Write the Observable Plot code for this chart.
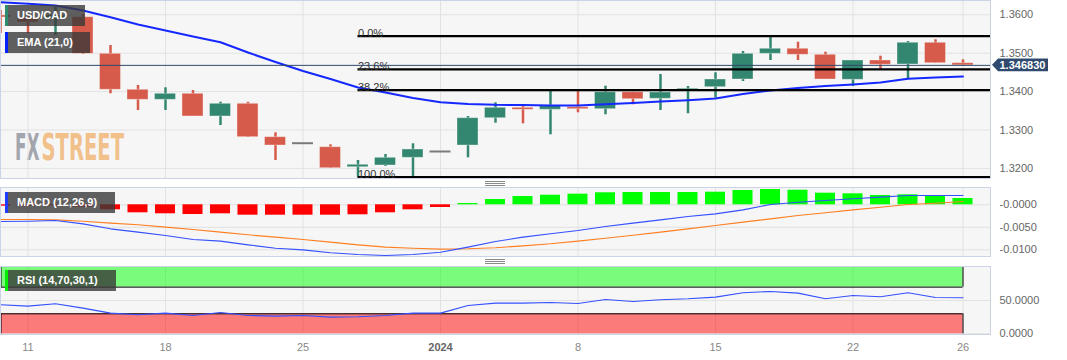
<!DOCTYPE html>
<html>
<head>
<meta charset="utf-8">
<script src="https://cdn.jsdelivr.net/npm/d3@7"></script>
<script src="https://cdn.jsdelivr.net/npm/@observablehq/plot@0.6"></script>
<style>
html,body{margin:0;padding:0;background:#fff;}
#wrap{position:relative;width:1067px;height:360px;overflow:hidden;font-family:"Liberation Sans",Arial,sans-serif;}
#wrap svg{position:absolute;left:0;}
.legend{position:absolute;left:5px;height:21px;background:rgba(58,58,58,0.8);color:#fff;font:bold 11px "Liberation Sans",Arial,sans-serif;line-height:21px;padding-left:12px;box-sizing:border-box;white-space:nowrap;}
.legend .acc{position:absolute;left:0;top:0;width:2.5px;height:100%;}
.sep{position:absolute;left:485px;width:20px;height:1px;background:#8a8a8a;}
</style>
</head>
<body>
<div id="wrap"></div>
<script>
// ---------- DATA ----------
const dates = ["2023-12-08","2023-12-11","2023-12-12","2023-12-13","2023-12-14","2023-12-15",
  "2023-12-18","2023-12-19","2023-12-20","2023-12-21","2023-12-22",
  "2023-12-25","2023-12-26","2023-12-27","2023-12-28","2023-12-29",
  "2024-01-01","2024-01-02","2024-01-03","2024-01-04","2024-01-05",
  "2024-01-08","2024-01-09","2024-01-10","2024-01-11","2024-01-12",
  "2024-01-15","2024-01-16","2024-01-17","2024-01-18","2024-01-19",
  "2024-01-22","2024-01-23","2024-01-24","2024-01-25","2024-01-26"];
const open  = [1.35982,1.35904,1.35904,1.35938,1.34984,1.34047,1.33786,1.33943,1.33352,1.33682,1.32813,1.32656,1.32552,1.32031,1.32076,1.32276,1.32440,1.32596,1.33307,1.33578,1.33526,1.33594,1.33542,1.33984,1.33813,1.34003,1.34115,1.34315,1.34984,1.35115,1.34958,1.34307,1.34810,1.34706,1.35271,1.34740];
const high  = [1.36112,1.36008,1.36190,1.36008,1.35201,1.34159,1.34099,1.34029,1.33724,1.33724,1.32927,1.32656,1.32615,1.32206,1.32362,1.32641,1.32440,1.33352,1.33708,1.33638,1.34003,1.34010,1.34141,1.33984,1.34445,1.34133,1.34490,1.35044,1.35417,1.35286,1.35026,1.34810,1.34922,1.35305,1.35349,1.34828];
const low   = [1.35513,1.35513,1.35461,1.34966,1.33943,1.33508,1.33508,1.33352,1.33117,1.32805,1.32206,1.32656,1.32005,1.31771,1.32049,1.31789,1.32440,1.32276,1.33177,1.33161,1.32875,1.33448,1.33396,1.33656,1.33508,1.33422,1.33828,1.34263,1.34810,1.34810,1.34315,1.34133,1.34549,1.34333,1.34740,1.34661];
const close = [1.35930,1.35799,1.35982,1.34984,1.34047,1.33786,1.33943,1.33352,1.33682,1.32813,1.32596,1.32656,1.32005,1.32094,1.32276,1.32492,1.32440,1.33307,1.33578,1.33526,1.33638,1.33542,1.33984,1.33802,1.33977,1.34073,1.34315,1.34984,1.35115,1.34958,1.34315,1.34810,1.34698,1.35271,1.34740,1.34683];
const ema21 = [1.36328,1.36286,1.36242,1.36112,1.35938,1.35747,1.35591,1.35435,1.35286,1.35018,1.34771,1.34536,1.34328,1.34107,1.33977,1.33833,1.33724,1.33677,1.33656,1.33651,1.33638,1.33638,1.33669,1.33703,1.33742,1.33776,1.33820,1.33938,1.34029,1.34094,1.34146,1.34185,1.34237,1.34333,1.34367,1.34393];
const macdLine = [-0.00371,-0.00364,-0.00349,-0.00423,-0.00534,-0.00608,-0.00682,-0.00771,-0.00808,-0.00890,-0.00964,-0.01001,-0.01067,-0.01104,-0.01127,-0.01104,-0.01053,-0.00941,-0.00816,-0.00719,-0.00645,-0.00571,-0.00482,-0.00408,-0.00334,-0.00260,-0.00201,-0.00112,0.00007,0.00058,0.00096,0.00133,0.00170,0.00207,0.00207,0.00207];
const signalLine = [-0.00327,-0.00327,-0.00334,-0.00364,-0.00408,-0.00445,-0.00497,-0.00549,-0.00608,-0.00667,-0.00719,-0.00771,-0.00830,-0.00890,-0.00941,-0.00964,-0.00986,-0.00978,-0.00956,-0.00912,-0.00867,-0.00808,-0.00742,-0.00675,-0.00608,-0.00534,-0.00460,-0.00386,-0.00312,-0.00238,-0.00178,-0.00112,-0.00053,0.00007,0.00036,0.00073];
const macdHist = [-0.0003,-0.0003,-0.0002,-0.0005,-0.00111,-0.00178,-0.00200,-0.00216,-0.00200,-0.00231,-0.00231,-0.00231,-0.00231,-0.00222,-0.00178,-0.00111,-0.00060,0.00029,0.00118,0.00184,0.00213,0.00236,0.00267,0.00273,0.00273,0.00273,0.00280,0.00318,0.00340,0.00324,0.00258,0.00244,0.00207,0.00222,0.00184,0.00140];
const rsi14 = [43.5,41.5,45.0,38.5,31.0,28.5,31.0,27.5,32.0,27.5,26.5,27.5,25.0,25.5,27.5,31.0,31.0,42.5,46.0,46.0,47.0,45.5,51.5,48.5,51.0,52.5,55.0,61.5,63.5,61.0,52.5,57.5,55.5,61.5,54.5,54.0];

const xTickPos = [0,5,10,15,20,25,30,34];
const xTickLabels = ["11","18","25","2024","8","15","22","26"];
const priceTicks = [1.32,1.33,1.34,1.35,1.36];
const macdTicks = [0,-0.005,-0.01];
const macdTickLabels = ["-0.0000","-0.0050","-0.0100"];
const rsiTicks = [50,0];
const rsiLevels = [70,30];

const fibRatios = [0,0.236,0.382,1];
const fibLabels = ["0.0%","23.6%","38.2%","100.0%"];
const fibHigh = 1.35443, fibLow = 1.31771, fibStartIndex = 12;
const lastClose = 1.34683;

// ---------- STYLE CONSTANTS ----------
const X_DOMAIN = [-1, 35];
const W = 1067, MR = 77;
const RED = "#d65b4a", GREEN = "#33866f", DOJI = "#7a7a7a";
const PANEL_BG = "#f6f6f6", BORDER = "#cdd3e6", GRID = "#e2e2e2";
const FONT = '"Liberation Sans", Arial, sans-serif';
const BODY = 0.382, BAR = 0.364;

const rows = dates.map((d, k) => ({
  i: k - 1, date: d, open: open[k], high: high[k], low: low[k], close: close[k],
  ema: ema21[k], macd: macdLine[k], signal: signalLine[k], hist: macdHist[k], rsi: rsi14[k]
}));
const lastI = rows[rows.length - 1].i;
const colorOf = d => d.close > d.open ? GREEN : d.close < d.open ? RED : DOJI;
const bodies = rows.filter(d => d.open !== d.close);
const dojis = rows.filter(d => d.open === d.close);
const fibs = fibRatios.map((r, k) => ({label: fibLabels[k], value: fibHigh - r * (fibHigh - fibLow)}));

const baseStyle = {background: "transparent", fontFamily: FONT, fontSize: "11px", overflow: "visible"};
const wrap = document.getElementById("wrap");

// ---------- PRICE PANEL ----------
const price = Plot.plot({
  width: W, height: 179, marginLeft: 0, marginRight: MR, marginTop: 0, marginBottom: 1,
  style: baseStyle,
  x: {domain: X_DOMAIN, axis: null},
  y: {domain: [1.31737, 1.36372], axis: null},
  marks: [
    Plot.frame({fill: PANEL_BG}),
    Plot.gridY(priceTicks, {stroke: GRID, strokeOpacity: 1}),
    Plot.gridX(xTickPos, {stroke: GRID, strokeOpacity: 1}),
    Plot.axisY(priceTicks, {anchor: "right", label: null, tickSize: 0, tickPadding: 9, tickFormat: d3.format(".4f"), fill: "#666", fontSize: 11}),
    Plot.ruleX(rows, {x: "i", y1: "low", y2: "high", stroke: colorOf, strokeWidth: 2.5}),
    Plot.rect(bodies, {x1: d => d.i - BODY, x2: d => d.i + BODY, y1: "open", y2: "close", fill: colorOf, stroke: "#fff", strokeOpacity: 0.35, strokeWidth: 1}),
    Plot.ruleY(dojis, {x1: d => d.i - BODY, x2: d => d.i + BODY, y: "close", stroke: DOJI, strokeWidth: 2}),
    Plot.line(rows, {x: "i", y: "ema", stroke: "#1428ff", strokeWidth: 2}),
    Plot.ruleY(fibs, {x1: fibStartIndex, x2: X_DOMAIN[1], y: "value", stroke: "#000", strokeWidth: 2.3}),
    Plot.text(fibs, {x: fibStartIndex, y: "value", text: "label", textAnchor: "start", lineAnchor: "bottom", dy: 1, fill: "#333", fontSize: 11}),
    Plot.ruleY([lastClose], {stroke: "#2f4a6e", strokeWidth: 1}),
    Plot.frame({stroke: BORDER})
  ]
});
price.style.top = "0px";
wrap.appendChild(price);
{
  const svg = d3.select(price);
  const xs = price.scale("x"), ys = price.scale("y");
  const y0 = ys.apply(lastClose), xr = xs.apply(X_DOMAIN[1]);
  // watermark (behind the candles): two condensed words scaled to the logo's width
  const wm = svg.insert("g", ":nth-child(3)").attr("text-anchor", "start");
  [["FX", "#a2a5ac", 15, 24.5], ["STREET", "#f1c08b", 41.5, 82.5]].forEach(([t, c, x, w]) => {
    const el = wm.append("text").attr("x", 0).attr("y", 0)
      .attr("font-family", '"DejaVu Sans Condensed","DejaVu Sans",sans-serif').attr("font-weight", "bold")
      .attr("font-size", 38).attr("fill", c).text(t);
    const natural = el.node().getComputedTextLength() || w;
    el.attr("transform", `translate(${x},159.5) scale(${w / natural},1)`);
  });
  // current price label
  const g = svg.append("g").attr("text-anchor", "start");
  g.append("path").attr("d", `M${xr + 2},${y0} L${xr + 8},${y0 - 6.3} H${xr + 58} V${y0 + 6.3} H${xr + 8} Z`).attr("fill", "#2f4a6e");
  g.append("text").attr("x", xr + 9.5).attr("y", y0).attr("dy", "0.36em").attr("fill", "#fff")
    .attr("font-family", FONT).attr("font-weight", "bold").attr("font-size", 11).text(d3.format(".6f")(lastClose));
}

// ---------- MACD PANEL ----------
const macd = Plot.plot({
  width: W, height: 71, marginLeft: 0, marginRight: MR, marginTop: 1, marginBottom: 1,
  style: baseStyle,
  x: {domain: X_DOMAIN, axis: null},
  y: {domain: [-0.011489, 0.003844], axis: null},
  marks: [
    Plot.frame({fill: PANEL_BG}),
    Plot.gridY(macdTicks, {stroke: GRID, strokeOpacity: 1}),
    Plot.gridX(xTickPos, {stroke: GRID, strokeOpacity: 1}),
    Plot.axisY(macdTicks, {anchor: "right", label: null, tickSize: 0, tickPadding: 9, tickFormat: d => macdTickLabels[macdTicks.indexOf(d)], fill: "#666", fontSize: 11}),
    Plot.rect(rows, {x1: d => d.i - BAR, x2: d => d.i + BAR, y1: 0, y2: "hist", fill: d => d.hist >= 0 ? "#00ff00" : "#ff0000"}),
    Plot.line(rows, {x: "i", y: "signal", stroke: "#ff7f22", strokeWidth: 1.1}),
    Plot.line(rows, {x: "i", y: "macd", stroke: "#3450ff", strokeWidth: 1.1}),
    Plot.frame({stroke: BORDER})
  ]
});
macd.style.top = "186px";
wrap.appendChild(macd);

// ---------- RSI PANEL ----------
const rsi = Plot.plot({
  width: W, height: 95, marginLeft: 0, marginRight: MR, marginTop: 1, marginBottom: 26,
  style: baseStyle,
  x: {domain: X_DOMAIN, axis: null},
  y: {domain: [-1.05, 100.95], axis: null},
  marks: [
    Plot.frame({fill: PANEL_BG}),
    Plot.gridY(rsiTicks, {stroke: GRID, strokeOpacity: 1}),
    Plot.gridX(xTickPos, {stroke: GRID, strokeOpacity: 1}),
    Plot.rect([{y1: rsiLevels[0], y2: 100}], {x1: X_DOMAIN[0], x2: lastI, y1: "y1", y2: "y2", fill: "#00ff00", fillOpacity: 0.5}),
    Plot.rect([{y1: 0, y2: rsiLevels[1]}], {x1: X_DOMAIN[0], x2: lastI, y1: "y1", y2: "y2", fill: "#ff0000", fillOpacity: 0.5}),
    Plot.ruleY(rsiLevels, {x1: X_DOMAIN[0], x2: lastI, stroke: "#000", strokeWidth: 1}),
    Plot.ruleX([lastI], {y1: rsiLevels[0], y2: 100, stroke: "#000"}),
    Plot.ruleX([lastI], {y1: 0, y2: rsiLevels[1], stroke: "#000"}),
    Plot.ruleX([X_DOMAIN[0]], {y1: rsiLevels[0], y2: 100, stroke: "#000", strokeWidth: 2}),
    Plot.ruleX([X_DOMAIN[0]], {y1: 0, y2: rsiLevels[1], stroke: "#000", strokeWidth: 2}),
    Plot.line(rows, {x: "i", y: "rsi", stroke: "#3450ff", strokeWidth: 1.1}),
    Plot.axisY(rsiTicks, {anchor: "right", label: null, tickSize: 0, tickPadding: 9, tickFormat: d3.format(".4f"), fill: "#666", fontSize: 11}),
    Plot.axisX(xTickPos, {anchor: "bottom", label: null, tickSize: 0, tickPadding: 9, tickFormat: d => xTickLabels[xTickPos.indexOf(d)], fill: "#888", fontSize: 11}),
    Plot.frame({stroke: BORDER})
  ]
});
rsi.style.top = "265px";
wrap.appendChild(rsi);
d3.select(rsi).selectAll("text").filter(function() { return this.textContent === "2024"; })
  .attr("font-weight", "bold").attr("fill", "#666");

// ---------- LEGENDS & SEPARATORS ----------
function legend(text, top, width, accent) {
  const d = document.createElement("div");
  d.className = "legend";
  d.style.top = top + "px"; d.style.width = width + "px";
  d.innerHTML = `<span class="acc" style="background:${accent}"></span>${text}`;
  wrap.appendChild(d);
}
legend("USD/CAD", 5, 80, "#2e8b70");
legend("EMA (21,0)", 32, 85, "#0022ff");
legend("MACD (12,26,9)", 192, 110, "#1f3cff");
legend("RSI (14,70,30,1)", 270, 111, "#00ee00");
[181, 183, 185, 259, 261, 263].forEach(t => {
  const s = document.createElement("div"); s.className = "sep"; s.style.top = t + "px"; wrap.appendChild(s);
});
</script>
</body>
</html>
